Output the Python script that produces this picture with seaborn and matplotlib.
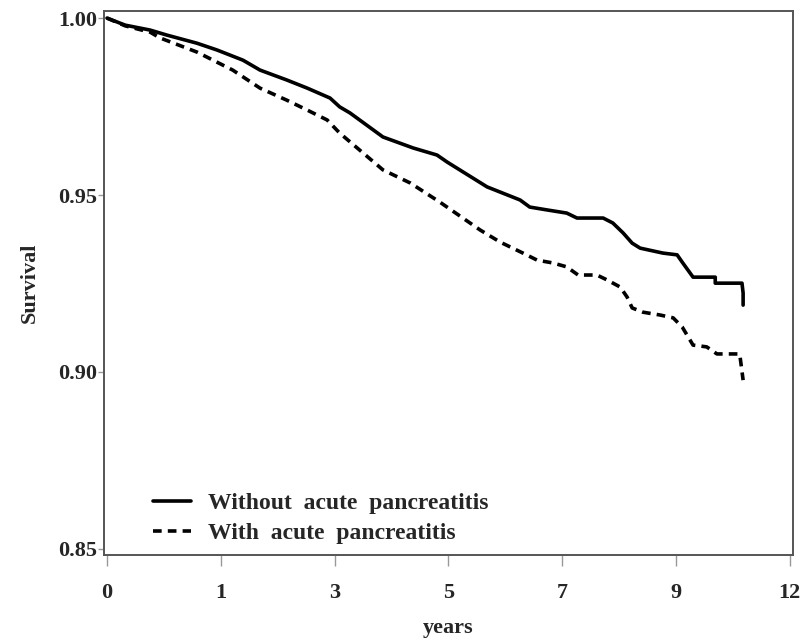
import matplotlib
matplotlib.use('Agg')
import matplotlib.pyplot as plt
import seaborn as sns
import pandas as pd

# x values are axis positions: tick spacing of 2 units, labelled 0,1,3,5,7,9,12 as in the source
tick_pos = [0, 2, 4, 6, 8, 10, 12]
tick_labels = ["0", "1", "3", "5", "7", "9", "12"]
y_ticks = [0.85, 0.90, 0.95, 1.00]

without_x = [0.00, 0.32, 0.76, 1.05, 1.58, 1.93, 2.39, 2.69, 3.16, 3.52, 3.92, 4.09, 4.27,
             4.85, 5.38, 5.80, 5.98, 6.68, 7.26, 7.43, 7.73, 8.08, 8.26, 8.72, 8.89, 9.07,
             9.23, 9.37, 9.77, 10.02, 10.12, 10.30, 10.69, 10.69, 11.16, 11.18, 11.18]
without_y = [1.0000, 0.9980, 0.9966, 0.9952, 0.9929, 0.9910, 0.9881, 0.9853, 0.9825, 0.9802,
             0.9774, 0.9749, 0.9732, 0.9664, 0.9633, 0.9613, 0.9593, 0.9523, 0.9486, 0.9466,
             0.9458, 0.9449, 0.9435, 0.9435, 0.9421, 0.9393, 0.9364, 0.9350, 0.9336, 0.9331,
             0.9308, 0.9268, 0.9268, 0.9251, 0.9251, 0.9223, 0.9189]

with_x = [0.00, 0.32, 0.76, 0.93, 1.58, 2.21, 2.69, 3.16, 3.52, 3.87, 4.09, 4.85, 5.33,
          5.85, 6.56, 6.91, 7.31, 7.56, 7.84, 8.08, 8.28, 8.61, 8.79, 9.02, 9.14, 9.23,
          9.42, 9.72, 9.95, 10.11, 10.30, 10.54, 10.72, 11.12, 11.18]
with_y = [1.0000, 0.9978, 0.9960, 0.9944, 0.9904, 0.9853, 0.9802, 0.9768, 0.9740, 0.9712,
          0.9675, 0.9571, 0.9534, 0.9480, 0.9401, 0.9367, 0.9336, 0.9316, 0.9308, 0.9297,
          0.9274, 0.9274, 0.9260, 0.9240, 0.9212, 0.9181, 0.9169, 0.9161, 0.9153, 0.9127,
          0.9076, 0.9071, 0.9051, 0.9051, 0.8977]

lab_without = "Without  acute  pancreatitis"
lab_with = "With  acute  pancreatitis"

df = pd.concat([
    pd.DataFrame({"t": without_x, "surv": without_y, "group": lab_without}),
    pd.DataFrame({"t": with_x, "surv": with_y, "group": lab_with}),
], ignore_index=True)

sns.set_style("ticks")
plt.rcParams['font.family'] = ['Liberation Serif', 'DejaVu Serif']
plt.rcParams['font.weight'] = 'bold'

fig = plt.figure(figsize=(8.03, 6.43), dpi=100)
ax = fig.add_axes([0.1295, 0.1369, 0.858, 0.846])

sns.lineplot(data=df, x="t", y="surv", hue="group", style="group",
             palette={lab_without: "black", lab_with: "black"},
             dashes={lab_without: "", lab_with: (2.4, 1.7)},
             estimator=None, sort=False, linewidth=2.6, ax=ax)

ax.set_xlim(-0.053, 12.056)
ax.set_ylim(0.8483, 1.002)
ax.set_xticks(tick_pos)
ax.set_xticklabels(tick_labels)
ax.set_yticks(y_ticks)
ax.set_yticklabels([f"{v:.2f}" for v in y_ticks])

for s in ax.spines.values():
    s.set_color("#555555")
    s.set_linewidth(1.4)
ax.tick_params(axis="x", length=8, width=1, color="#999999", pad=12, labelsize=16)
ax.tick_params(axis="y", length=4, width=1, color="#999999", pad=1, labelsize=16)
for t in ax.get_xticklabels() + ax.get_yticklabels():
    t.set_fontweight("bold")

ax.set_xlabel("years", fontsize=16, fontweight="bold", labelpad=11)
ax.set_ylabel("Survival", fontsize=16, fontweight="bold", labelpad=13)

handles, labels = ax.get_legend_handles_labels()
ax.legend(handles, labels, loc="lower left", bbox_to_anchor=(0.071, 0.02),
          frameon=False, borderpad=0, borderaxespad=0, handlelength=1.6,
          handletextpad=0.75, labelspacing=0.35, prop={"size": 17, "weight": "bold"})

fig.savefig("out.png", dpi=100)
